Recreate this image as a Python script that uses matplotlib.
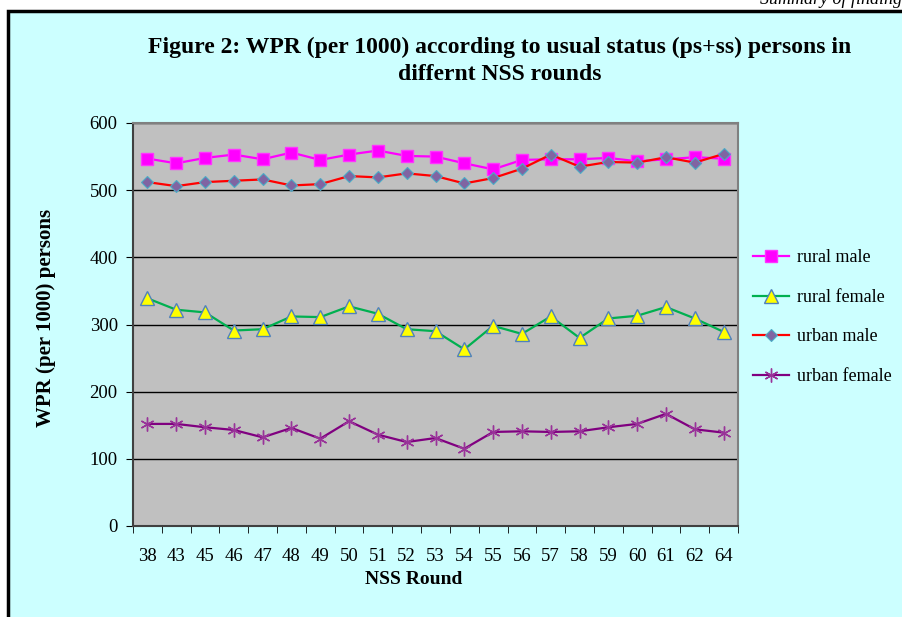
import numpy as np
import matplotlib
matplotlib.use('Agg')
import matplotlib.pyplot as plt
from matplotlib.patches import Rectangle
from matplotlib.ticker import FixedLocator

rounds = ['38', '43', '45', '46', '47', '48', '49', '50', '51', '52', '53',
          '54', '55', '56', '57', '58', '59', '60', '61', '62', '64']
rural_male = [547, 540, 548, 553, 546, 556, 545, 553, 559, 551, 550,
              540, 531, 545, 546, 546, 548, 543, 546, 549, 547]
rural_female = [339, 322, 318, 291, 293, 312, 311, 327, 316, 293, 290,
                263, 298, 286, 312, 280, 309, 313, 326, 309, 289]
urban_male = [512, 506, 512, 514, 516, 507, 509, 521, 519, 525, 521,
              510, 518, 532, 553, 535, 542, 541, 549, 541, 554]
urban_female = [152, 152, 147, 143, 132, 146, 130, 156, 136, 125, 131,
                115, 140, 141, 140, 141, 147, 152, 167, 144, 139]

plt.rcParams['font.family'] = ['Liberation Serif', 'DejaVu Serif']

W, H = 902, 617
fig = plt.figure(figsize=(W / 100, H / 100), dpi=100, facecolor='white')

# chart box
fig.patches.append(Rectangle((8 / W, -0.1), 1.0, (H - 11) / H + 0.1,
                             transform=fig.transFigure, facecolor='#CCFFFF',
                             edgecolor='black', lw=2.5, zorder=-5))
fig.text(760 / W, 1 - 4 / H, 'Summary of findings', fontsize=13, style='italic',
         ha='left', va='baseline')

ax = fig.add_axes([133 / W, (H - 526) / H, 605 / W, 403 / H])
ax.set_facecolor('#C0C0C0')
x = np.arange(len(rounds))

ax.plot(x, rural_male, color='#FF00FF', lw=1.6, marker='s', ms=8.5,
        mfc='#FF00FF', mec='#FF33FF', label='rural male', zorder=3)
ax.plot(x, rural_female, color='#00B050', lw=1.6, marker='^', ms=9.5,
        mfc='#FFFF00', mec='#4F81BD', mew=1, label='rural female', zorder=3)
ax.plot(x, urban_male, color='#FF0000', lw=1.6, marker='D', ms=6.5,
        mfc='#8064A2', mec='#4BACC6', mew=0.8, label='urban male', zorder=4)
ax.plot(x, urban_female, color='#800080', lw=1.6, marker=(6, 2, 0), ms=10,
        mec='#993399', mew=1, label='urban female', zorder=3)

ax.set_xlim(-0.5, len(rounds) - 0.5)
ax.set_ylim(0, 600)
ax.set_yticks(range(0, 601, 100))
ax.yaxis.grid(True, color='black', lw=1)
ax.set_axisbelow(True)
ax.set_xticks(x)
ax.set_xticklabels(rounds)
ax.xaxis.set_minor_locator(FixedLocator(np.arange(-0.5, len(rounds), 1)))
ax.tick_params(axis='x', which='major', length=0, pad=16, labelsize=13.5)
ax.tick_params(axis='x', which='minor', length=5, direction='out')
ax.tick_params(axis='y', length=5, direction='out', labelsize=13.5, pad=6)
for s in ax.spines.values():
    s.set_color('#808080')
    s.set_linewidth(1.5)
ax.spines['left'].set_color('#404040')
ax.spines['bottom'].set_color('#404040')

fig.text(500 / W, 1 - 47 / H, 'Figure 2: WPR (per 1000) according to usual status (ps+ss) persons in',
         fontsize=17, fontweight='bold', ha='center', va='center')
fig.text(500 / W, 1 - 75 / H, 'differnt NSS rounds',
         fontsize=17, fontweight='bold', ha='center', va='center')
fig.text(46 / W, 1 - 318 / H, 'WPR (per 1000) persons', fontsize=15,
         fontweight='bold', rotation=90, ha='center', va='center')
fig.text(414 / W, 1 - 580 / H, 'NSS Round', fontsize=14,
         fontweight='bold', ha='center', va='center')

fig.legend(loc='upper left', bbox_to_anchor=(737 / W, 1 - 233 / H),
           frameon=False, fontsize=13, labelspacing=1.25, handlelength=2.0,
           handletextpad=0.4)

fig.savefig('out.png', dpi=100, facecolor=fig.get_facecolor())
